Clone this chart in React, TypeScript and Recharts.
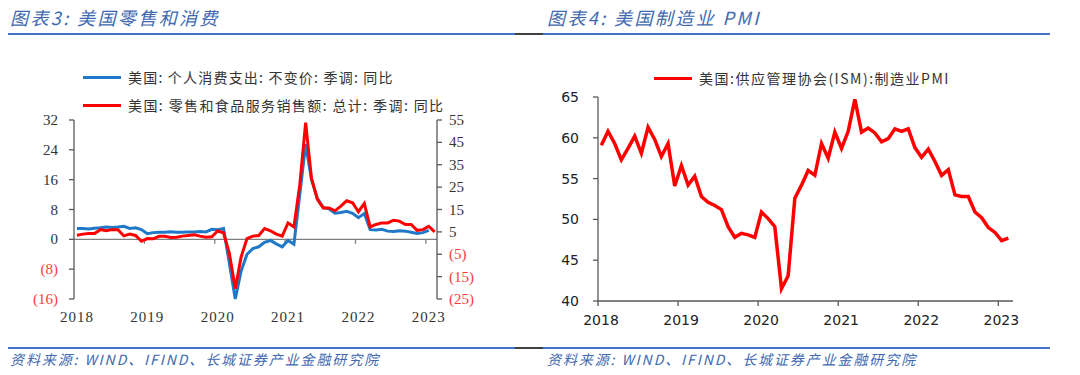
import { LineChart, Line, XAxis, YAxis, ReferenceLine } from 'recharts'

// monthly observations, Jan 2018 .. Feb 2023
const MONTHS = [
  '2018-01', '2018-02', '2018-03', '2018-04', '2018-05', '2018-06', '2018-07', '2018-08', '2018-09', '2018-10', '2018-11', '2018-12',
  '2019-01', '2019-02', '2019-03', '2019-04', '2019-05', '2019-06', '2019-07', '2019-08', '2019-09', '2019-10', '2019-11', '2019-12',
  '2020-01', '2020-02', '2020-03', '2020-04', '2020-05', '2020-06', '2020-07', '2020-08', '2020-09', '2020-10', '2020-11', '2020-12',
  '2021-01', '2021-02', '2021-03', '2021-04', '2021-05', '2021-06', '2021-07', '2021-08', '2021-09', '2021-10', '2021-11', '2021-12',
  '2022-01', '2022-02', '2022-03', '2022-04', '2022-05', '2022-06', '2022-07', '2022-08', '2022-09', '2022-10', '2022-11', '2022-12',
  '2023-01', '2023-02',
]

// 美国: 个人消费支出: 不变价: 季调: 同比 (to Jan 2023)
const PCE_YOY = [
  2.9, 2.9, 2.8, 3.0, 3.1, 3.3, 3.2, 3.3, 3.5, 2.9, 3.1, 2.6,
  1.5, 1.8, 1.9, 1.9, 2.0, 1.9, 1.9, 2.0, 2.0, 2.1, 2.0, 2.7,
  2.6, 2.9, -6.5, -16.0, -8.5, -4.0, -2.5, -2.0, -0.8, -0.3, -1.2, -2.0,
  -0.3, -1.3, 12.0, 25.5, 16.0, 11.0, 8.5, 8.2, 7.0, 7.2, 7.5, 7.0,
  5.8, 6.9, 2.6, 2.5, 2.7, 2.2, 2.1, 2.3, 2.2, 1.9, 1.6, 1.8,
  2.4,
]

// 美国: 零售和食品服务销售额: 总计: 季调: 同比
const RETAIL_YOY = [
  3.5, 4.0, 4.3, 4.3, 6.0, 5.5, 6.0, 6.0, 3.2, 4.0, 3.4, 0.8,
  2.0, 1.9, 3.0, 3.0, 2.5, 2.6, 3.1, 3.4, 3.7, 3.1, 2.6, 2.8,
  5.4, 4.6, -4.7, -20.4, -6.2, 2.0, 3.1, 3.4, 6.5, 5.5, 4.0, 3.1,
  9.0, 7.2, 26.0, 53.8, 28.9, 19.5, 15.7, 15.7, 14.4, 16.5, 18.9, 18.0,
  14.0, 17.7, 7.2, 8.3, 9.0, 9.0, 10.2, 9.8, 8.3, 8.3, 5.7, 6.0,
  7.5, 5.0,
]

// 美国: 供应管理协会(ISM): 制造业PMI
const PMI = [
  59.1, 60.8, 59.3, 57.3, 58.7, 60.2, 58.1, 61.3, 59.8, 57.7, 59.3, 54.1,
  56.6, 54.2, 55.3, 52.8, 52.1, 51.7, 51.2, 49.1, 47.8, 48.3, 48.1, 47.8,
  50.9, 50.1, 49.1, 41.5, 43.1, 52.6, 54.2, 56.0, 55.4, 59.3, 57.5, 60.7,
  58.7, 60.8, 64.7, 60.7, 61.2, 60.6, 59.5, 59.9, 61.1, 60.8, 61.1, 58.8,
  57.6, 58.6, 57.1, 55.4, 56.1, 53.0, 52.8, 52.8, 50.9, 50.2, 49.0, 48.4,
  47.4, 47.7,
]

const YEAR_LABELS = ['2018', '2019', '2020', '2021', '2022', '2023']
const YEAR_TICKS = [0, 12, 24, 36, 48, 60]
const LEFT_TICKS = [-16, -8, 0, 8, 16, 24, 32]
const RIGHT_TICKS = [-25, -15, -5, 5, 15, 25, 35, 45, 55]
const PMI_TICKS = [40, 45, 50, 55, 60, 65]

const BLUE = '#1f78c8'
const RED = '#ff0000'
const NEG_RED = '#ff3b3b'
const AXIS = '#595959'
const TITLE_BLUE = '#4169b0'
const RULE_BLUE = '#4472c4'
const CJK = "'Noto Sans CJK SC', 'Noto Sans', sans-serif"
const SERIF = "'Times New Roman', 'Liberation Serif', 'DejaVu Serif', serif"
const SANS = "'DejaVu Sans', sans-serif"

// months since Jan 2018, plotted mid-month
const monthPos = (m: string) => {
  const [y, mo] = m.split('-').map(Number)
  return (y - 2018) * 12 + mo - 0.5
}

const consumptionData = MONTHS.map((m, i) => ({
  t: monthPos(m),
  pce: PCE_YOY[i] ?? null,
  retail: RETAIL_YOY[i] ?? null,
}))

const pmiData = MONTHS.map((m, i) => ({ t: monthPos(m), pmi: PMI[i] }))

const yearOf = (t: number) => YEAR_LABELS[YEAR_TICKS.indexOf(t)] ?? ''

const ParenTick = ({ x, y, payload, textAnchor }: any) => {
  const v = payload.value
  return (
    <text x={x} y={y} dy={5} textAnchor={textAnchor} fontFamily={SERIF}
      style={{ fontFamily: SERIF, fontSize: 15 }}
      fill={v < 0 ? NEG_RED : '#333'}>
      {v < 0 ? `(${-v})` : v}
    </text>
  )
}

const SerifYearTick = ({ x, y, payload }: any) => (
  <text x={x} y={y} dx={3} dy={23} textAnchor="middle" fontFamily={SERIF}
    style={{ fontFamily: SERIF, fontSize: 15, letterSpacing: 1 }} fill="#333">
    {yearOf(payload.value)}
  </text>
)

const SansYearTick = ({ x, y, payload }: any) => (
  <text x={x} y={y} dx={3} dy={17} textAnchor="middle"
    style={{ fontFamily: SANS, fontSize: 14 }} fill="#222">
    {yearOf(payload.value)}
  </text>
)

const PmiTick = ({ x, y, payload, textAnchor }: any) => (
  <text x={x} y={y} dy={5} textAnchor={textAnchor}
    style={{ fontFamily: SANS, fontSize: 14 }} fill="#222">
    {payload.value}
  </text>
)

const LegendRow = ({ left, top, color, label, spacing }: any) => (
  <div style={{ position: 'absolute', left, top, display: 'flex', alignItems: 'center', height: 20 }}>
    <div style={{ width: 38, height: 3, background: color, marginRight: 7 }} />
    <span style={{ fontFamily: CJK, fontSize: 14, color: '#333', letterSpacing: spacing, whiteSpace: 'nowrap' }}>
      {label}
    </span>
  </div>
)

const Title = ({ left, text }: any) => (
  <div style={{
    position: 'absolute', left, top: 6, fontFamily: CJK, fontSize: 18, fontStyle: 'italic',
    color: TITLE_BLUE, letterSpacing: 2.4, lineHeight: '22px', whiteSpace: 'nowrap',
  }}>
    {text}
  </div>
)

const Source = ({ left }: any) => (
  <div style={{
    position: 'absolute', left, top: 350, fontFamily: CJK, fontSize: 14, fontStyle: 'italic',
    color: TITLE_BLUE, letterSpacing: 1.9, lineHeight: '18px', whiteSpace: 'nowrap',
  }}>
    资料来源: WIND、IFIND、长城证券产业金融研究院
  </div>
)

const Rule = ({ top }: any) => (
  <>
    <div style={{ position: 'absolute', left: 8, top, width: 507, height: 2, background: RULE_BLUE }} />
    <div style={{ position: 'absolute', left: 515, top, width: 28, height: 2, background: '#404040' }} />
    <div style={{ position: 'absolute', left: 543, top, width: 507, height: 2, background: RULE_BLUE }} />
  </>
)

function ConsumptionChart() {
  return (
    <LineChart width={540} height={375} data={consumptionData}
      margin={{ top: 120, right: 63, bottom: 46, left: 34 }}>
      <XAxis dataKey="t" type="number" domain={[0, 61.9]} ticks={YEAR_TICKS} allowDataOverflow
        axisLine={false} tickLine={false} tickSize={0} tickMargin={0} height={30}
        tick={<SerifYearTick />} interval={0} />
      <YAxis yAxisId="l" domain={[-16, 32]} ticks={LEFT_TICKS} width={40} interval={0}
        stroke={AXIS} strokeWidth={1.3} tickSize={5} tickMargin={11} tick={<ParenTick />} />
      <YAxis yAxisId="r" orientation="right" domain={[-25, 55]} ticks={RIGHT_TICKS} width={40} interval={0}
        stroke={AXIS} strokeWidth={1.3} tickSize={5} tickMargin={7} tick={<ParenTick />} />
      <ReferenceLine yAxisId="l" y={0} stroke="#7f7f7f" strokeWidth={1.3} />
      {YEAR_TICKS.slice(1).map((t) => (
        <ReferenceLine key={t} yAxisId="l" stroke="#7f7f7f" strokeWidth={1.3}
          segment={[{ x: t, y: 0 }, { x: t, y: -1.2 }]} />
      ))}
      <Line yAxisId="l" dataKey="pce" stroke={BLUE} strokeWidth={3} dot={false}
        isAnimationActive={false} />
      <Line yAxisId="r" dataKey="retail" stroke={RED} strokeWidth={3} dot={false}
        isAnimationActive={false} />
    </LineChart>
  )
}

function PmiChart() {
  return (
    <LineChart width={540} height={375} data={pmiData}
      margin={{ top: 97, right: 67, bottom: 44, left: 18 }}>
      <XAxis dataKey="t" type="number" domain={[0, 62.2]} ticks={YEAR_TICKS} allowDataOverflow interval={0}
        stroke={AXIS} strokeWidth={1.3} tickSize={5} tickMargin={2} height={30} tick={<SansYearTick />} />
      <YAxis domain={[40, 65]} ticks={PMI_TICKS} width={40} interval={0}
        stroke={AXIS} strokeWidth={1.3} tickSize={5} tickMargin={14} tick={<PmiTick />} />
      <Line dataKey="pmi" stroke={RED} strokeWidth={3.5} dot={false} isAnimationActive={false} />
    </LineChart>
  )
}

export default function App() {
  return (
    <div style={{ position: 'absolute', left: 0, top: 0, width: 1080, height: 375, background: '#fff', overflow: 'hidden' }}>
      <Title left={10} text="图表3: 美国零售和消费" />
      <Title left={547} text="图表4: 美国制造业 PMI" />
      <Rule top={33} />

      <div style={{ position: 'absolute', left: 0, top: 0 }}>
        <ConsumptionChart />
      </div>
      <div style={{ position: 'absolute', left: 540, top: 0 }}>
        <PmiChart />
      </div>

      <LegendRow left={83} top={67} color={BLUE} spacing={1.2} label="美国: 个人消费支出: 不变价: 季调: 同比" />
      <LegendRow left={83} top={95} color={RED} spacing={1.4} label="美国: 零售和食品服务销售额: 总计: 季调: 同比" />
      <LegendRow left={654} top={68} color={RED} spacing={1.5} label="美国:供应管理协会(ISM):制造业PMI" />

      <Rule top={347} />
      <Source left={10} />
      <Source left={547} />
    </div>
  )
}
